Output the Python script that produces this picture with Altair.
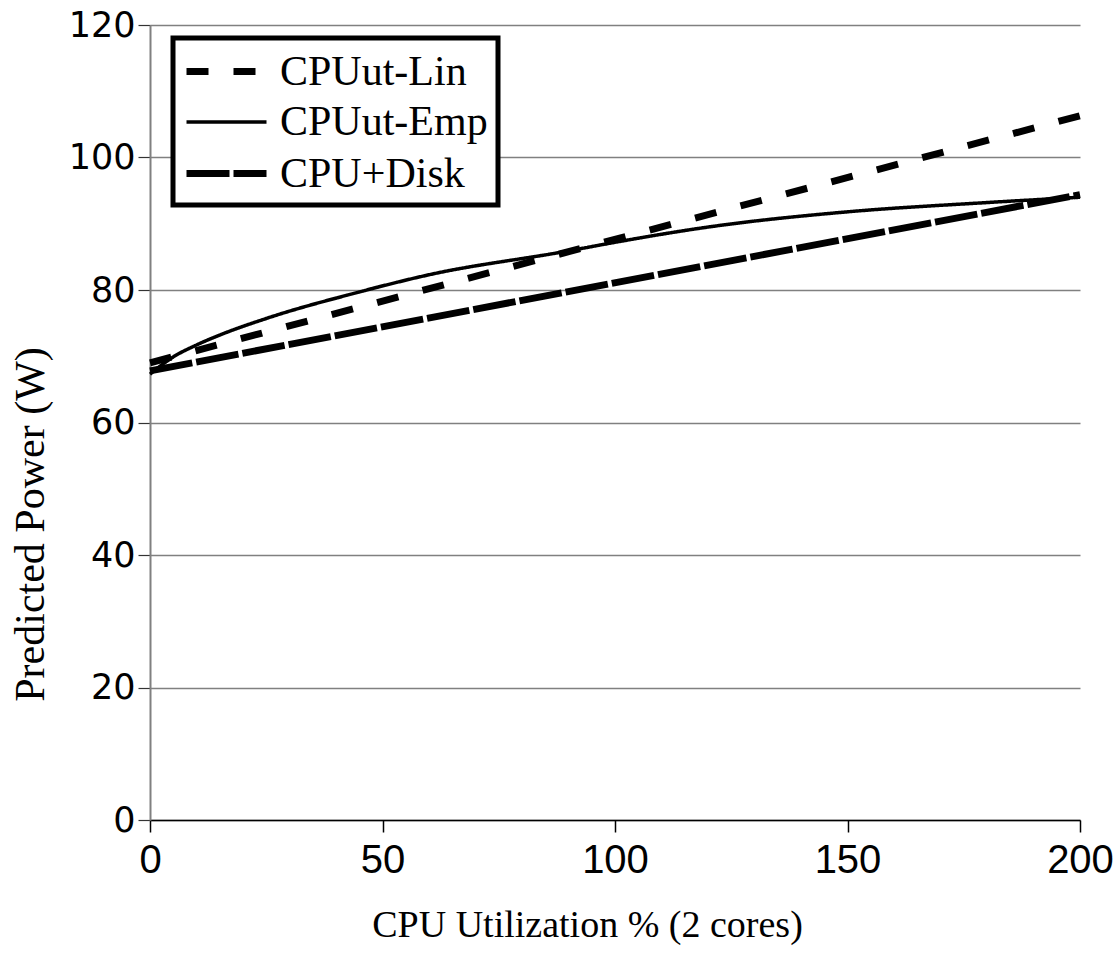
import altair as alt
import pandas as pd

# Series names in legend order
series_names = ["CPUut-Lin", "CPUut-Emp", "CPU+Disk"]

# Linear CPU-utilization model
lin_x = [0, 200]
lin_y = [69.0, 106.3]

# Empirical CPU-utilization model (curve)
emp_x = [0, 5, 10, 15, 25, 45, 60, 90, 100, 120, 150, 180, 200]
emp_y = [67.3, 69.9, 71.7, 73.2, 75.7, 79.7, 82.3, 85.9, 87.2, 89.5, 91.8, 93.2, 94.0]

# CPU + disk model
disk_x = [0, 200]
disk_y = [67.8, 94.4]

rows = []
for name, xs, ys in [
    (series_names[0], lin_x, lin_y),
    (series_names[1], emp_x, emp_y),
    (series_names[2], disk_x, disk_y),
]:
    for i, (xv, yv) in enumerate(zip(xs, ys)):
        rows.append({"series": name, "cpu": xv, "power": yv, "i": i})
df = pd.DataFrame(rows)

serif = "Liberation Serif, Times New Roman, serif"

# Long horizontal stroke used as the legend swatch
swatch = "M-1,0H3"

legend = alt.Legend(
    title=None,
    orient="none",
    legendX=23,
    legendY=13,
    symbolType=swatch,
    symbolSize=1600,
    labelFont=serif,
    labelFontSize=42,
    labelColor="black",
    labelLimit=500,
    labelOffset=50,
    rowPadding=7,
    padding=10,
    strokeColor="black",
    fillColor="white",
)

chart = (
    alt.Chart(df)
    .mark_line(interpolate="monotone", strokeCap="butt")
    .encode(
        x=alt.X(
            "cpu:Q",
            scale=alt.Scale(domain=[0, 200], nice=False),
            axis=alt.Axis(
                title="CPU Utilization % (2 cores)",
                values=[0, 50, 100, 150, 200],
                grid=False,
                domainColor="black",
                domainWidth=1.5,
                tickColor="black",
                tickWidth=1.5,
                tickSize=12,
                labelFlush=False,
                labelFont="Liberation Sans, Arial, sans-serif",
                labelFontSize=40,
                labelColor="black",
                labelPadding=8,
                titleFont=serif,
                titleFontSize=38,
                titleFontWeight="normal",
                titleColor="black",
                titlePadding=26,
                titleX=437,
            ),
        ),
        y=alt.Y(
            "power:Q",
            scale=alt.Scale(domain=[0, 120], nice=False),
            axis=alt.Axis(
                title="Predicted Power (W)",
                values=[0, 20, 40, 60, 80, 100, 120],
                grid=True,
                gridColor="#808080",
                gridWidth=1.5,
                domainColor="#808080",
                domainWidth=2,
                tickColor="#333333",
                tickWidth=1.2,
                tickSize=12,
                labelFont="DejaVu Sans, Verdana, sans-serif",
                labelFontSize=35,
                labelColor="black",
                labelPadding=3,
                titleFont=serif,
                titleFontSize=42,
                titleFontWeight="normal",
                titleColor="black",
                titlePadding=16,
                titleY=499,
            ),
        ),
        color=alt.Color(
            "series:N",
            sort=series_names,
            scale=alt.Scale(domain=series_names, range=["black", "black", "black"]),
            legend=legend,
        ),
        strokeDash=alt.StrokeDash(
            "series:N",
            sort=series_names,
            scale=alt.Scale(domain=series_names, range=[[22, 25], [1, 0], [43, 4]]),
            legend=legend,
        ),
        strokeWidth=alt.StrokeWidth(
            "series:N",
            sort=series_names,
            scale=alt.Scale(type="ordinal", domain=series_names, range=[7, 3.5, 7]),
            legend=legend,
        ),
        order="i:Q",
    )
    .properties(width=930, height=795)
    .configure_view(stroke=None)
    .configure_legend(strokeWidth=5)
    .properties(
        autosize=alt.AutoSizeParams(type="none"),
        padding={"left": 150, "top": 25, "right": 37, "bottom": 142},
        background="white",
    )
)

chart.save("out.html", embed_options={"renderer": "svg", "actions": False})
